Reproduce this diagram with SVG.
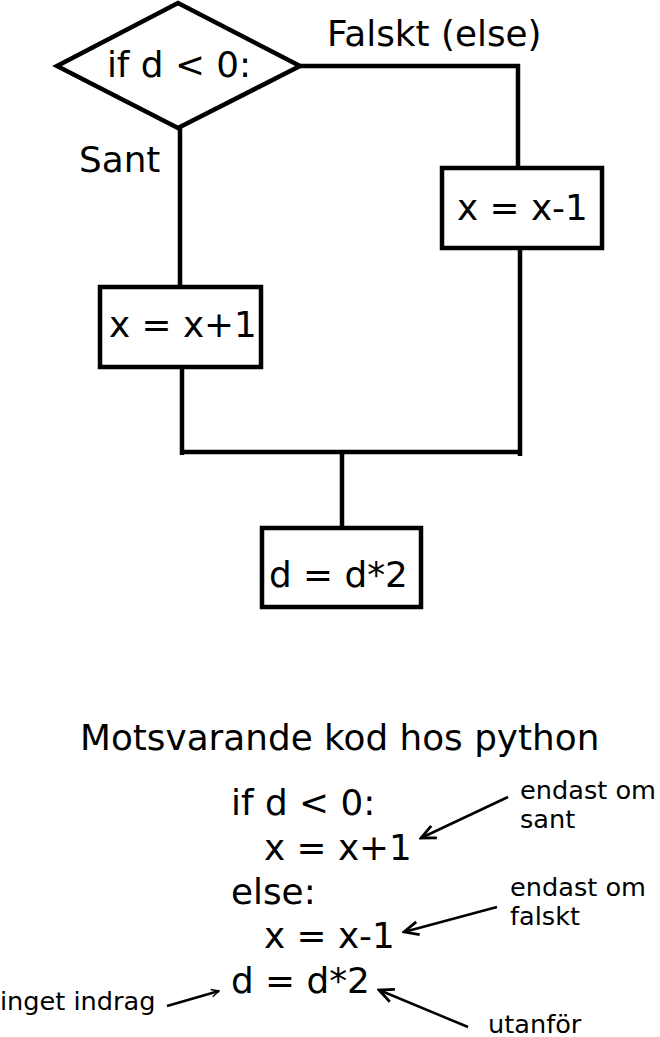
<svg xmlns="http://www.w3.org/2000/svg" width="660" height="1037" viewBox="0 0 660 1037">
<defs>
<style>
.t{font-family:"DejaVu Sans",sans-serif;font-size:35.8px;fill:#000}
.s{font-family:"DejaVu Sans",sans-serif;font-size:25.6px;fill:#000}
.box{fill:#fff;stroke:#000;stroke-width:4.5}
.ln{fill:none;stroke:#000;stroke-width:4.5}
.an{fill:none;stroke:#000;stroke-width:2.5}
</style>
<marker id="ah" markerUnits="userSpaceOnUse" markerWidth="20" markerHeight="20" viewBox="-16 -8 18 16" refX="0" refY="0" orient="auto">
<path d="M-13,-6 L0,0 L-13,6" fill="none" stroke="#000" stroke-width="2.5"/>
</marker>
<marker id="ahs" markerUnits="userSpaceOnUse" markerWidth="12" markerHeight="12" viewBox="-10 -5 11 10" refX="0" refY="0" orient="auto">
<path d="M-7,-3.5 L0,0 L-7,3.5" fill="none" stroke="#000" stroke-width="1.3"/>
</marker>
</defs>
<rect width="660" height="1037" fill="#fff"/>
<g id="connectors">
<polyline class="ln" points="300,66 518,66 518,168" stroke-width="5.5"/>
<line class="ln" x1="180" y1="128" x2="180" y2="286"/>
<line class="ln" x1="520" y1="248" x2="520" y2="456"/>
<line class="ln" x1="182" y1="368" x2="182" y2="455"/>
<line class="ln" x1="182" y1="452" x2="522" y2="452" stroke-width="6.5"/>
<line class="ln" x1="342" y1="452" x2="342" y2="528" stroke-width="3.5"/>
</g>
<g id="decision">
<polygon class="box" points="57,66 178,3 300,66 178,128"/>
<text class="t" x="179" y="77" text-anchor="middle">if d &lt; 0:</text>
</g>
<g id="label-false"><text class="t" x="327" y="46">Falskt (else)</text></g>
<g id="label-true"><text class="t" x="79" y="172">Sant</text></g>
<g id="box-minus">
<rect class="box" x="442" y="168" width="160" height="80"/>
<text class="t" x="457" y="220">x = x-1</text>
</g>
<g id="box-plus">
<rect class="box" x="100" y="287" width="161" height="80"/>
<text class="t" x="109" y="337">x = x+1</text>
</g>
<g id="box-d">
<rect class="box" x="262" y="528" width="159" height="79"/>
<text class="t" x="269" y="587">d = d*2</text>
</g>
<g id="code">
<text class="t" x="80" y="750">Motsvarande kod hos python</text>
<text class="t" x="231" y="815">if d &lt; 0:</text>
<text class="t" x="264" y="860">x = x+1</text>
<text class="t" x="231" y="904">else:</text>
<text class="t" x="264" y="948">x = x-1</text>
<text class="t" x="231" y="993">d = d*2</text>
</g>
<g id="annotations">
<text class="s" x="520" y="799">endast om</text>
<text class="s" x="520" y="828">sant</text>
<text class="s" x="510" y="896">endast om</text>
<text class="s" x="510" y="925">falskt</text>
<text class="s" x="488" y="1033">utanför</text>
<text class="s" x="0" y="1010">inget indrag</text>
<line class="an" x1="508" y1="797" x2="421" y2="838" marker-end="url(#ah)"/>
<line class="an" x1="497" y1="907" x2="404" y2="932" marker-end="url(#ah)"/>
<line class="an" x1="468" y1="1027" x2="379" y2="990" marker-end="url(#ah)"/>
<line class="an" x1="167" y1="1006" x2="219" y2="991" stroke-width="1.3" marker-end="url(#ahs)"/>
</g>
</svg>
